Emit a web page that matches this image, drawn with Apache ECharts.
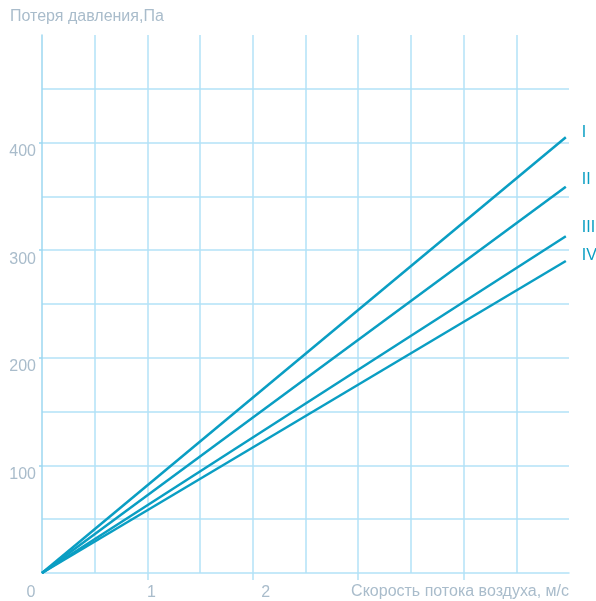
<!DOCTYPE html>
<html>
<head>
<meta charset="utf-8">
<script src="https://cdn.jsdelivr.net/npm/echarts@6/dist/echarts.min.js"></script>
<style>html,body{margin:0;padding:0;background:#fff}#c{width:596px;height:601px}</style>
</head>
<body>
<div id="c"></div>
<script>
var seriesNames = ['I', 'II', 'III', 'IV'];
var xEnd = 4.97;
var endValues = [405, 359, 313, 290];
var xTickLabels = [0, 1, 2];
var yTickLabels = [100, 200, 300, 400];
var labelDy = [-5, -7, -9, -5];

var lineColor = '#0a9ec3';
var textColor = '#a9bccb';
var gridColor = '#b3e2f7';
var axisColor = '#9cd7f1';
var FONT = 'Liberation Sans';

var series = seriesNames.map(function (name, i) {
  return {
    name: name,
    type: 'line',
    data: [[0, 0], [xEnd, endValues[i]]],
    symbol: 'none',
    lineStyle: { color: lineColor, width: 2.5 },
    endLabel: {
      show: true,
      formatter: name,
      color: lineColor,
      fontSize: 16,
      fontFamily: FONT,
      distance: 16,
      offset: [0, labelDy[i]]
    },
    silent: true,
    animation: false
  };
});

var chart = echarts.init(document.getElementById('c'));
chart.setOption({
  animation: false,
  grid: { left: 42, right: 27, top: 35, bottom: 28 },
  xAxis: {
    type: 'value', min: 0, max: 5, interval: 1,
    name: 'Скорость потока воздуха, м/с',
    nameLocation: 'end',
    nameGap: 0,
    nameTextStyle: { color: textColor, fontSize: 16, fontFamily: FONT, align: 'right', verticalAlign: 'top', padding: [11, 0, 0, 0] },
    axisLine: { show: true, lineStyle: { color: gridColor, width: 1.5 } },
    axisTick: { show: true, length: 7, customValues: [1, 2, 3, 4], lineStyle: { color: gridColor, width: 1.5 } },
    axisLabel: {
      customValues: xTickLabels,
      margin: 12,
      color: textColor, fontSize: 16, fontFamily: FONT,
      formatter: function (v) { return '{a' + v + '|' + v + '}'; },
      rich: {
        a0: { padding: [0, 22, 0, 0], color: textColor, fontSize: 16, fontFamily: FONT },
        a1: { padding: [0, 0, 0, 8], color: textColor, fontSize: 16, fontFamily: FONT },
        a2: { padding: [0, 0, 0, 26], color: textColor, fontSize: 16, fontFamily: FONT }
      }
    },
    splitLine: { show: true, lineStyle: { color: gridColor, width: 1.5 } },
    minorTick: { show: false, splitNumber: 2 },
    minorSplitLine: { show: true, lineStyle: { color: gridColor, width: 1.5 } }
  },
  yAxis: {
    type: 'value', min: 0, max: 500, interval: 100,
    name: 'Потеря давления,Па',
    nameLocation: 'end',
    nameGap: 0,
    nameTextStyle: { color: textColor, fontSize: 16, fontFamily: FONT, align: 'left', verticalAlign: 'bottom', padding: [0, 0, 10, -32] },
    axisLine: { show: true, lineStyle: { color: axisColor, width: 1.5 } },
    axisTick: { show: true, length: 3, customValues: yTickLabels, lineStyle: { color: axisColor, width: 1.5 } },
    axisLabel: {
      customValues: yTickLabels,
      margin: 6,
      color: textColor, fontSize: 16, fontFamily: FONT,
      verticalAlign: 'top',
      lineHeight: 18
    },
    splitLine: { show: true, lineStyle: { color: gridColor, width: 1.5 } },
    minorTick: { show: false, splitNumber: 2 },
    minorSplitLine: { show: true, lineStyle: { color: gridColor, width: 1.5 } }
  },
  series: series
});
</script>
</body>
</html>
